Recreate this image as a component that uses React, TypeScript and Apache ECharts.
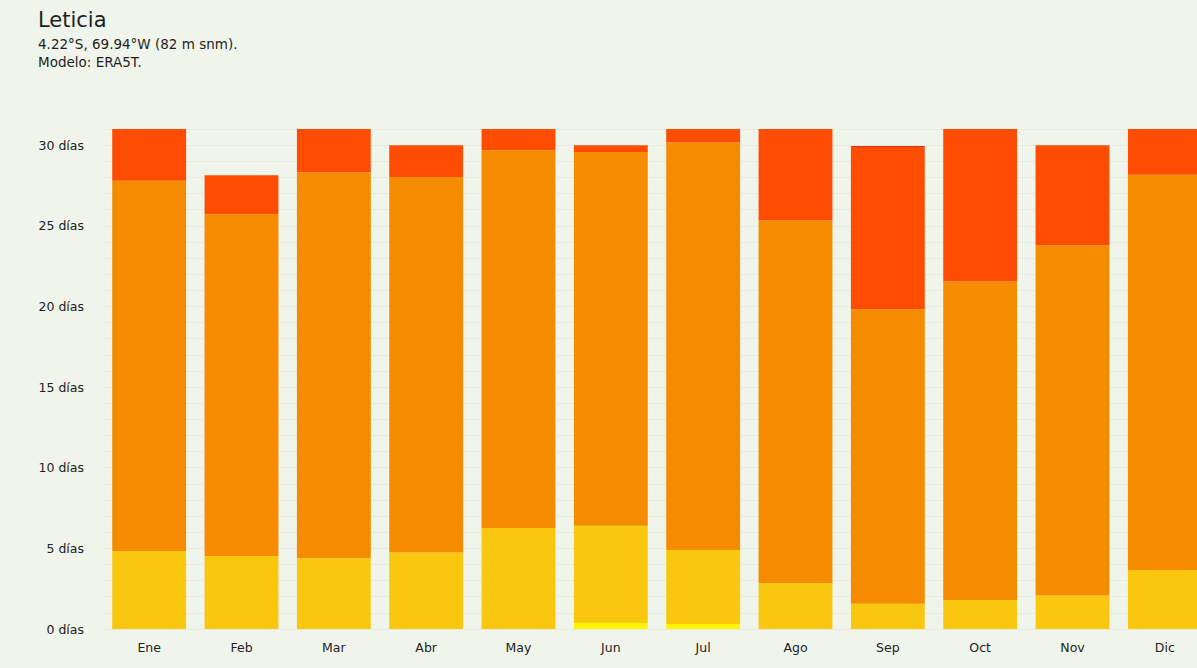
import React, { useEffect, useRef } from "react";
import * as echarts from "echarts";

const months = ["Ene", "Feb", "Mar", "Abr", "May", "Jun", "Jul", "Ago", "Sep", "Oct", "Nov", "Dic"];
const yTicks = [0, 5, 10, 15, 20, 25, 30];
const brightYellow = [0, 0, 0, 0, 0, 0.37, 0.31, 0, 0, 0, 0, 0];
const gold = [4.83, 4.52, 4.38, 4.75, 6.26, 6.03, 4.59, 2.83, 1.57, 1.8, 2.07, 3.66];
const orange = [22.96, 21.2, 23.93, 23.27, 23.43, 23.17, 25.27, 22.52, 18.26, 19.75, 21.71, 24.5];
const red = [3.21, 2.42, 2.69, 1.98, 1.31, 0.43, 0.83, 5.65, 10.05, 9.45, 6.22, 2.84];
const darkRed = [0, 0, 0, 0, 0, 0, 0, 0, 0.06, 0, 0, 0];

const seriesDefs = [
  { name: "muy caluroso suave", data: brightYellow, color: "#fff500" },
  { name: "caluroso", data: gold, color: "#f9c80e" },
  { name: "muy caluroso", data: orange, color: "#f58c00" },
  { name: "bochornoso", data: red, color: "#fe4c00" },
  { name: "extremo", data: darkRed, color: "#e3301c" },
];

export default function App() {
  const ref = useRef<HTMLDivElement>(null);
  useEffect(() => {
    if (!ref.current) return;
    const chart = echarts.init(ref.current, null, { renderer: "svg" });
    const font = "'DejaVu Sans', sans-serif";
    chart.setOption({
      animation: false,
      backgroundColor: "#f0f5ec",
      textStyle: { fontFamily: font },
      graphic: [
        { type: "text", left: 38, top: 9, style: { text: "Leticia", fontSize: 21, fill: "#1e1e1e", fontFamily: font } },
        { type: "text", left: 38, top: 37, style: { text: "4.22°S, 69.94°W (82 m snm).", fontSize: 13.5, fill: "#1e1e1e", fontFamily: font } },
        { type: "text", left: 38, top: 55, style: { text: "Modelo: ERA5T.", fontSize: 13.5, fill: "#1e1e1e", fontFamily: font } },
      ],
      grid: { left: 103, right: 0, top: 129, bottom: 39 },
      xAxis: {
        type: "category",
        data: months,
        axisLine: { show: false },
        axisTick: { show: false },
        axisLabel: { color: "#222", fontSize: 12.5, margin: 12, fontFamily: font },
      },
      yAxis: {
        type: "value",
        min: 0,
        max: 31,
        interval: 1,
        axisLine: { show: false },
        axisTick: { show: false },
        splitLine: { show: true, lineStyle: { color: "rgba(225,205,185,0.3)", width: 1 } },
        axisLabel: {
          color: "#222",
          fontSize: 12.5,
          margin: 19,
          fontFamily: font,
          formatter: (v: number) => (yTicks.includes(v) ? `${v} días` : ""),
        },
      },
      series: seriesDefs.map((s) => ({
        name: s.name,
        type: "bar",
        stack: "total",
        data: s.data,
        barCategoryGap: "20%",
        itemStyle: { color: s.color },
        emphasis: { disabled: true },
      })),
    });
    return () => chart.dispose();
  }, []);
  return (
    <div style={{ position: "fixed", left: 0, top: 0, width: 1197, height: 668, overflow: "hidden", background: "#f0f5ec" }}>
      <div ref={ref} style={{ width: 1211, height: 668 }} />
    </div>
  );
}
